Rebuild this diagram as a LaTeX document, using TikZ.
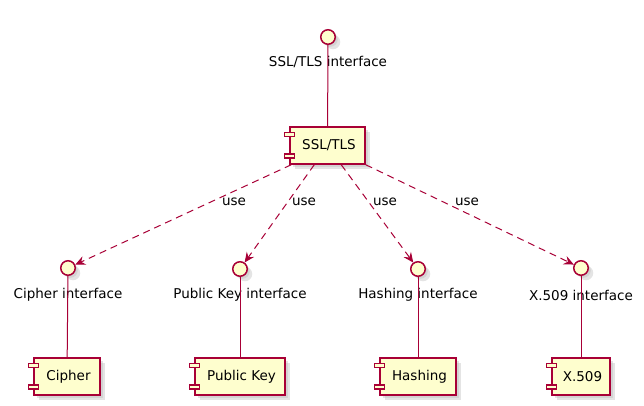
\documentclass[tikz,border=0pt]{standalone}
\usepackage{fontspec}
\setmainfont{DejaVu Sans}
\usetikzlibrary{arrows.meta,shadows}
\definecolor{umlborder}{HTML}{A80036}
\definecolor{umlfill}{HTML}{FEFECE}
\tikzset{
  iface/.style={circle, draw=umlborder, fill=umlfill, line width=1.5pt, minimum size=14.5pt, inner sep=0pt,
    double copy shadow={shadow xshift=2.5pt, shadow yshift=-2.5pt, fill=black!30, draw=none, opacity=.35}},
  comp/.style={rectangle, draw=umlborder, fill=umlfill, line width=1.5pt, minimum height=37pt, inner sep=0pt,
    font=\fontsize{13.5}{16}\selectfont,
    double copy shadow={shadow xshift=2.5pt, shadow yshift=-2.5pt, fill=black!30, draw=none, opacity=.35}},
  port/.style={draw=umlborder, fill=umlfill, line width=1.5pt},
  lbl/.style={inner sep=0pt, font=\fontsize{13.5}{16}\selectfont},
  link/.style={draw=umlborder, line width=1pt},
  uselink/.style={draw=umlborder, line width=1pt, dash pattern=on 7pt off 5pt,
    -{Stealth[length=10pt, width=9pt, inset=3.5pt]}},
}
\newcommand{\ports}[1]{%
  \draw[port] ([xshift=-5pt,yshift=-6pt]#1.north west) rectangle ++(10,4);
  \draw[port] ([xshift=-5pt,yshift=11pt]#1.south west) rectangle ++(10,4);
}
\begin{document}
\begin{tikzpicture}[x=1pt,y=-1pt]
\useasboundingbox (0,0) rectangle (644,405);
% top interface
\node[iface] (issl) at (328,37) {};
\node[lbl] (lssl) at (328,62) {SSL/TLS interface};
\node[comp, minimum width=75pt] (ssl) at (327.5,145.5) {\hspace*{3pt}SSL/TLS};
\draw[link] (issl) -- (ssl);
\ports{ssl}
% bottom interfaces
\node[iface] (icipher) at (68,268) {};
\node[lbl] (lcipher) at (68,295) {Cipher interface};
\node[iface] (ipk) at (240,269) {};
\node[lbl] (lpk) at (240,295) {Public Key interface};
\node[iface] (ihash) at (418,269) {};
\node[lbl] (lhash) at (418,295) {Hashing interface};
\node[iface] (ix) at (581,268) {};
\node[lbl] (lx) at (581,295) {X.509 interface};
% components
\node[comp, minimum width=66pt] (cipher) at (67,376.5) {\hspace*{3pt}Cipher};
\node[comp, minimum width=90pt] (pk) at (240,376.5) {\hspace*{3pt}Public Key};
\node[comp, minimum width=76pt] (hash) at (418,376.5) {\hspace*{3pt}Hashing};
\node[comp, minimum width=58pt] (x509) at (581,376.5) {\hspace*{3pt}X.509};
\draw[link] (icipher) -- (cipher);
\draw[link] (ipk) -- (pk);
\draw[link] (ihash) -- (hash);
\draw[link] (ix) -- (x509);
\ports{cipher}
\ports{pk}
\ports{hash}
\ports{x509}
% use arrows
\draw[uselink] ([xshift=2pt]ssl.south west) -- (icipher);
\draw[uselink] ([xshift=25pt]ssl.south west) -- (ipk);
\draw[uselink] ([xshift=52pt]ssl.south west) -- (ihash);
\draw[uselink] (ssl.south east) -- (ix);
\node[lbl] (u1) at (234,202) {use};
\node[lbl] (u2) at (304,202) {use};
\node[lbl] (u3) at (385,202) {use};
\node[lbl] (u4) at (467,202) {use};
\end{tikzpicture}
\end{document}
